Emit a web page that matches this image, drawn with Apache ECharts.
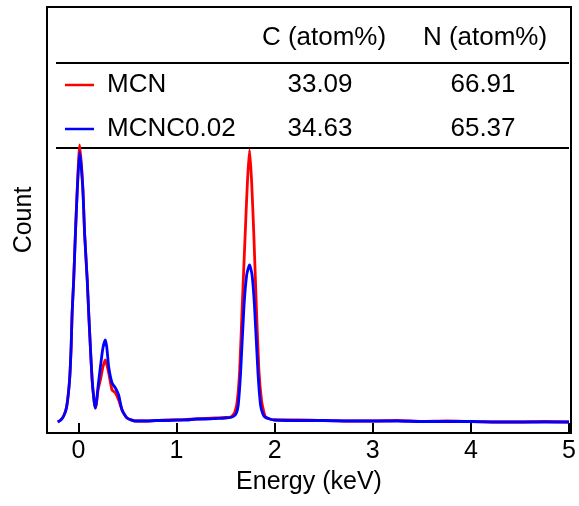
<!DOCTYPE html>
<html>
<head>
<meta charset="utf-8">
<script src="https://cdn.jsdelivr.net/npm/echarts@6/dist/echarts.min.js"></script>
<style>
  html, body { margin: 0; padding: 0; background: #fff; }
  #chart { width: 579px; height: 506px; }
</style>
</head>
<body>
<div id="chart"></div>
<script>
// EDS spectra of MCN and MCNC0.02 (counts in arbitrary units)
const mcnEnergy = [
  -0.21, -0.18, -0.15, -0.12, -0.09, -0.074, -0.064, -0.048, -0.031, -0.010, 0.013, 0.044,
  0.064, 0.090, 0.105, 0.122, 0.140, 0.160, 0.173, 0.185, 0.200, 0.224, 0.250, 0.275, 0.290,
  0.309, 0.343, 0.377, 0.410, 0.445, 0.496, 0.58, 0.70, 0.80, 0.90, 1.00, 1.10, 1.20, 1.30,
  1.40, 1.50, 1.55, 1.568, 1.595, 1.619, 1.643, 1.670, 1.698, 1.722, 1.744, 1.766, 1.789,
  1.813, 1.840, 1.867, 1.890, 1.907, 1.95, 2.00, 2.25, 2.50, 2.75, 3.00, 3.25, 3.50, 3.75,
  4.00, 4.25, 4.50, 4.75, 5.00
];
const mcnCounts = [
  11, 13, 17, 26, 53, 86, 120, 153, 198, 248, 288, 248,
  198, 153, 120, 86, 53, 32, 25, 30, 43, 53, 66, 73, 68,
  60, 43, 40, 33, 23, 15, 12, 12, 12.5, 13, 13, 13.5, 14, 14.5,
  15, 15.5, 16, 17, 21, 32, 62, 128, 195, 250, 283, 250, 195,
  128, 62, 32, 21, 16, 14, 13, 13, 12.5, 12, 12, 12.5, 11.5, 12,
  11.5, 11, 11, 11.5, 11
];
const mcncEnergy = [
  -0.21, -0.18, -0.15, -0.12, -0.09, -0.074, -0.064, -0.048, -0.031, -0.010, 0.013, 0.044,
  0.064, 0.090, 0.105, 0.122, 0.140, 0.160, 0.173, 0.185, 0.200, 0.224, 0.250, 0.275, 0.290,
  0.309, 0.343, 0.377, 0.410, 0.445, 0.496, 0.58, 0.70, 0.80, 0.90, 1.00, 1.10, 1.20, 1.30,
  1.40, 1.50, 1.55, 1.586, 1.610, 1.629, 1.653, 1.687, 1.715, 1.744, 1.770, 1.795, 1.830,
  1.856, 1.880, 1.901, 1.95, 2.00, 2.25, 2.50, 2.75, 3.00, 3.25, 3.50, 3.75, 4.00, 4.25,
  4.50, 4.75, 5.00
];
const mcncCounts = [
  11, 13, 17, 26, 53, 86, 120, 153, 198, 246, 281, 246,
  198, 153, 120, 86, 53, 32, 25, 32, 46, 66, 85, 93, 85,
  66, 50, 45, 38, 23, 15, 12, 12, 12.5, 12.5, 13, 13, 14, 14,
  14.5, 15, 15.5, 17, 20, 28, 60, 126, 158, 168, 158, 126, 60,
  28, 19, 16, 14, 13, 12.5, 12.5, 12, 12, 12, 11.5, 11.5, 11.5, 11,
  11, 11, 11
];
const xTicks = [0, 1, 2, 3, 4, 5];

// composition table
const tableHeaders = ['C (atom%)', 'N (atom%)'];
const sampleNames = ['MCN', 'MCNC0.02'];
const carbonPct = ['33.09', '34.63'];
const nitrogenPct = ['66.91', '65.37'];
const seriesColors = ['#ff0000', '#0000ff'];

const FONT = '"Liberation Sans", Arial, sans-serif';

const chart = echarts.init(document.getElementById('chart'), null, { renderer: 'canvas' });

const pairs = (xs, ys) => xs.map((x, i) => [x, ys[i]]);

// table: header, separators, row legend swatches and values
const colX = [324, 485];
const rowY = [85, 129];
const cellFont = '26px ' + FONT;
const graphics = [];
tableHeaders.forEach((h, j) => {
  graphics.push({ type: 'text', x: colX[j], y: 38, style: { text: h, font: cellFont, fill: '#000', textAlign: 'center', textVerticalAlign: 'middle' } });
});
[63, 148].forEach(y => {
  graphics.push({ type: 'line', shape: { x1: 56, y1: y, x2: 569, y2: y }, style: { stroke: '#000', lineWidth: 2 } });
});
sampleNames.forEach((name, i) => {
  graphics.push({ type: 'line', shape: { x1: 65, y1: rowY[i], x2: 94, y2: rowY[i] }, style: { stroke: seriesColors[i], lineWidth: 2.5 } });
  graphics.push({ type: 'text', x: 107, y: rowY[i], style: { text: name, font: cellFont, fill: '#000', textAlign: 'left', textVerticalAlign: 'middle' } });
  graphics.push({ type: 'text', x: colX[0] - 4, y: rowY[i], style: { text: carbonPct[i], font: cellFont, fill: '#000', textAlign: 'center', textVerticalAlign: 'middle' } });
  graphics.push({ type: 'text', x: colX[1] - 2, y: rowY[i], style: { text: nitrogenPct[i], font: cellFont, fill: '#000', textAlign: 'center', textVerticalAlign: 'middle' } });
});

chart.setOption({
  animation: false,
  backgroundColor: '#fff',
  grid: { left: 47, right: 8, top: 7, bottom: 73, show: true, borderColor: '#000', borderWidth: 2, containLabel: false },
  xAxis: {
    type: 'value',
    min: -0.32,
    max: 5.02,
    name: 'Energy (keV)',
    nameLocation: 'middle',
    nameGap: 37,
    nameTextStyle: { color: '#000', fontSize: 25, fontFamily: FONT },
    axisLine: { show: true, onZero: false, lineStyle: { color: '#000', width: 2 } },
    axisTick: { show: true, inside: true, length: 10, customValues: xTicks, lineStyle: { color: '#000', width: 2 } },
    axisLabel: { show: true, customValues: xTicks, margin: 6, color: '#000', fontSize: 25, fontFamily: FONT },
    splitLine: { show: false }
  },
  yAxis: {
    type: 'value',
    min: 0,
    max: 426,
    name: 'Count',
    nameLocation: 'middle',
    nameGap: 10,
    nameRotate: 90,
    nameTextStyle: { color: '#000', fontSize: 25, fontFamily: FONT },
    axisLine: { show: true, onZero: false, lineStyle: { color: '#000', width: 2 } },
    axisTick: { show: false },
    axisLabel: { show: false },
    splitLine: { show: false }
  },
  series: [
    { name: sampleNames[0], type: 'line', data: pairs(mcnEnergy, mcnCounts), showSymbol: false, smooth: 0.2, lineStyle: { color: seriesColors[0], width: 2.8 }, z: 2 },
    { name: sampleNames[1], type: 'line', data: pairs(mcncEnergy, mcncCounts), showSymbol: false, smooth: 0.2, lineStyle: { color: seriesColors[1], width: 2.8 }, z: 3 }
  ],
  graphic: graphics
});
</script>
</body>
</html>
